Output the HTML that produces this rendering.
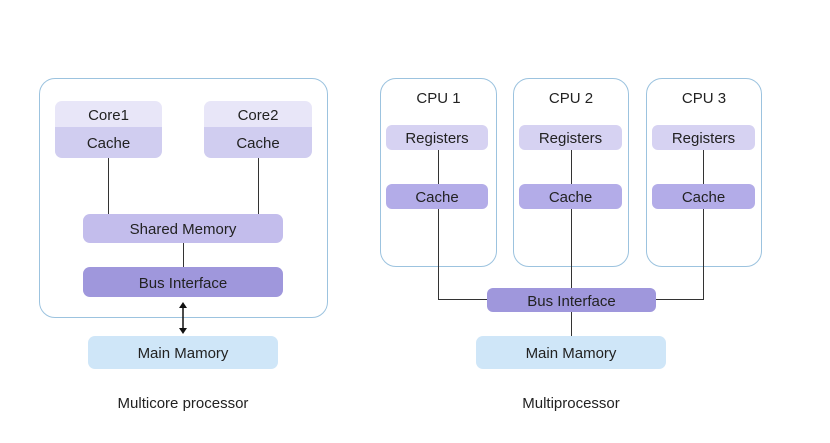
<!DOCTYPE html>
<html><head><meta charset="utf-8"><style>
body{margin:0;background:#fff;}
.a{position:absolute;box-sizing:border-box;display:flex;align-items:center;justify-content:center;font-family:"Liberation Sans",sans-serif;font-size:15px;color:#222;padding-top:2px;}
.o{border:1px solid #9cc3df;border-radius:16px;}
.l{position:absolute;background:#333;}
</style></head><body>
<div style="position:relative;width:830px;height:443px;overflow:hidden">
<div class="a o" style="left:39px;top:78px;width:289px;height:240px"></div>
<div class="a" style="left:55px;top:101px;width:107px;height:26px;background:#e8e6f8;border-radius:7px 7px 0 0">Core1</div>
<div class="a" style="left:55px;top:127px;width:107px;height:31px;background:#d0cdf0;border-radius:0 0 7px 7px">Cache</div>
<div class="a" style="left:204px;top:101px;width:108px;height:26px;background:#e8e6f8;border-radius:7px 7px 0 0">Core2</div>
<div class="a" style="left:204px;top:127px;width:108px;height:31px;background:#d0cdf0;border-radius:0 0 7px 7px">Cache</div>
<div class="l" style="left:108px;top:158px;width:1px;height:56px"></div>
<div class="l" style="left:258px;top:158px;width:1px;height:56px"></div>
<div class="a" style="left:83px;top:214px;width:200px;height:29px;background:#c3bdec;border-radius:7px">Shared Memory</div>
<div class="l" style="left:183px;top:243px;width:1px;height:24px"></div>
<div class="a" style="left:83px;top:267px;width:200px;height:30px;background:#9f97dc;border-radius:7px">Bus Interface</div>
<svg style="position:absolute;left:177px;top:301px" width="12" height="34"><line x1="6" y1="4" x2="6" y2="30" stroke="#111" stroke-width="1.5"/><path d="M2,7 L6,1 L10,7Z M2,27 L6,33 L10,27Z" fill="#111"/></svg>
<div class="a" style="left:88px;top:336px;width:190px;height:33px;background:#cfe6f8;border-radius:7px">Main Mamory</div>
<div class="a" style="left:83px;top:390px;width:200px;height:24px">Multicore processor</div>

<div class="a o" style="left:380px;top:78px;width:117px;height:189px;align-items:flex-start;padding-top:11px">CPU 1</div>
<div class="a o" style="left:513px;top:78px;width:116px;height:189px;align-items:flex-start;padding-top:11px">CPU 2</div>
<div class="a o" style="left:646px;top:78px;width:116px;height:189px;align-items:flex-start;padding-top:11px">CPU 3</div>
<div class="l" style="left:438px;top:150px;width:1px;height:150px"></div>
<div class="l" style="left:571px;top:150px;width:1px;height:186px"></div>
<div class="l" style="left:703px;top:150px;width:1px;height:150px"></div>
<div class="l" style="left:438px;top:299px;width:265px;height:1px"></div>
<div class="a" style="left:386px;top:125px;width:102px;height:25px;background:#d6d2f2;border-radius:6px">Registers</div>
<div class="a" style="left:519px;top:125px;width:103px;height:25px;background:#d6d2f2;border-radius:6px">Registers</div>
<div class="a" style="left:652px;top:125px;width:103px;height:25px;background:#d6d2f2;border-radius:6px">Registers</div>
<div class="a" style="left:386px;top:184px;width:102px;height:25px;background:#b3ace8;border-radius:6px">Cache</div>
<div class="a" style="left:519px;top:184px;width:103px;height:25px;background:#b3ace8;border-radius:6px">Cache</div>
<div class="a" style="left:652px;top:184px;width:103px;height:25px;background:#b3ace8;border-radius:6px">Cache</div>
<div class="a" style="left:487px;top:288px;width:169px;height:24px;background:#9f97dc;border-radius:6px">Bus Interface</div>
<div class="a" style="left:476px;top:336px;width:190px;height:33px;background:#cfe6f8;border-radius:7px">Main Mamory</div>
<div class="a" style="left:471px;top:390px;width:200px;height:24px">Multiprocessor</div>
</div>
</body></html>
